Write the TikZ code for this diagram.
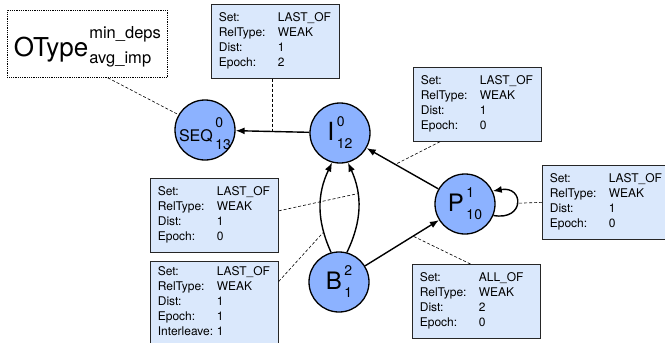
\documentclass[tikz,border=0pt]{standalone}
\usepackage{fontspec}
\setmainfont{TeX Gyre Heros}
\usetikzlibrary{arrows.meta}
\definecolor{opblue}{RGB}{140,178,255}
\definecolor{infoblue}{RGB}{218,232,252}
% operation label: name with stacked upper and lower index
\newcommand{\opname}[4]{{\fontsize{#4}{#4}\selectfont #1}\kern2.5pt{\fontsize{14}{14}\selectfont\rlap{\raisebox{14pt}{#2}}\raisebox{-8pt}{#3}}}
% relation info table
\newcommand{\relinfo}[4]{\begin{tabular}{@{}p{59pt}@{}p{54pt}@{}}Set: & #1\\RelType: & #2\\Dist: & #3\\Epoch: & #4\end{tabular}}

\begin{document}
\begin{tikzpicture}[x=1pt,y=1pt,
  op/.style={circle,draw,line width=1.3pt,fill=opblue,minimum size=60pt,inner sep=0pt},
  relbox/.style={draw=black!85,fill=infoblue,line width=0.7pt,anchor=north west,
    inner xsep=7.5pt,inner ysep=7pt,font=\fontsize{12}{15}\selectfont},
  dep/.style={-{Latex[length=9pt,width=7pt]},line width=1.4pt},
  note/.style={line width=0.6pt,dash pattern=on 3pt off 2pt}]
\useasboundingbox (0,0) rectangle (665,-343);

% legend
\node[draw,densely dotted,line width=0.8pt,anchor=north west,minimum width=160pt,
  minimum height=67pt,inner sep=0pt] (otype) at (7,-10)
  {\rule[-5pt]{0pt}{40pt}{\fontsize{26}{26}\selectfont OType}\kern1pt{\fontsize{16.5}{16.5}\selectfont\rlap{\raisebox{-7pt}{avg\_imp}}\raisebox{18pt}{min\_deps}}};

% operations
\node[op,text depth=0pt] (SEQ) at (205,-130) {\opname{SEQ}{0}{13}{16}};
\node[op] (I) at (340,-133) {\opname{I}{0}{12}{25}};
\node[op] (P) at (465,-204) {\opname{P}{1}{10}{24}};
\node[op] (B) at (339,-282) {\opname{B}{2}{1}{24}};

% dependencies
\draw[dep] (I) -- coordinate[pos=0.5] (iseq) (SEQ);
\draw[dep] (P) -- coordinate[pos=0.6] (pi) (I);
\draw[dep] (B) -- coordinate[pos=0.65] (bp) (P);
\draw[dep] (B.105) to[bend left=25] coordinate[pos=0.22] (bil) (I.-105);
\draw[dep] (B.75) to[bend right=25] coordinate[pos=0.66] (bir) (I.-75);
\draw[dep] (P.-22) to[out=-10,in=10,min distance=32pt] coordinate[pos=0.5] (ploop) (P.25);

% relation boxes
\node[relbox] (tbox) at (211,-4) {\relinfo{LAST\_OF}{WEAK}{1}{2}};
\node[relbox] (urbox) at (413,-67) {\relinfo{LAST\_OF}{WEAK}{1}{0}};
\node[relbox] (rbox) at (542,-165) {\relinfo{LAST\_OF}{WEAK}{1}{0}};
\node[relbox] (lmbox) at (150,-178) {\relinfo{LAST\_OF}{WEAK}{1}{0}};
\node[relbox,inner ysep=3.5pt] (lbbox) at (150,-261) {\relinfo{LAST\_OF}{WEAK}{1}{1\\Interleave: & 1}};
\node[relbox] (brbox) at (412,-264) {\relinfo{ALL\_OF}{WEAK}{2}{0}};

\draw[note] (otype.-59) -- (SEQ.150);
\draw[note] (tbox.south -| iseq) -- (iseq);
\draw[note] (urbox.225) -- (pi);
\draw[note] (rbox.west) -- (ploop);
\draw[note] (lmbox.4) -- (bir);
\draw[note] (lbbox.18) -- (bil);
\draw[note] (brbox.99) -- (bp);
\end{tikzpicture}
\end{document}
